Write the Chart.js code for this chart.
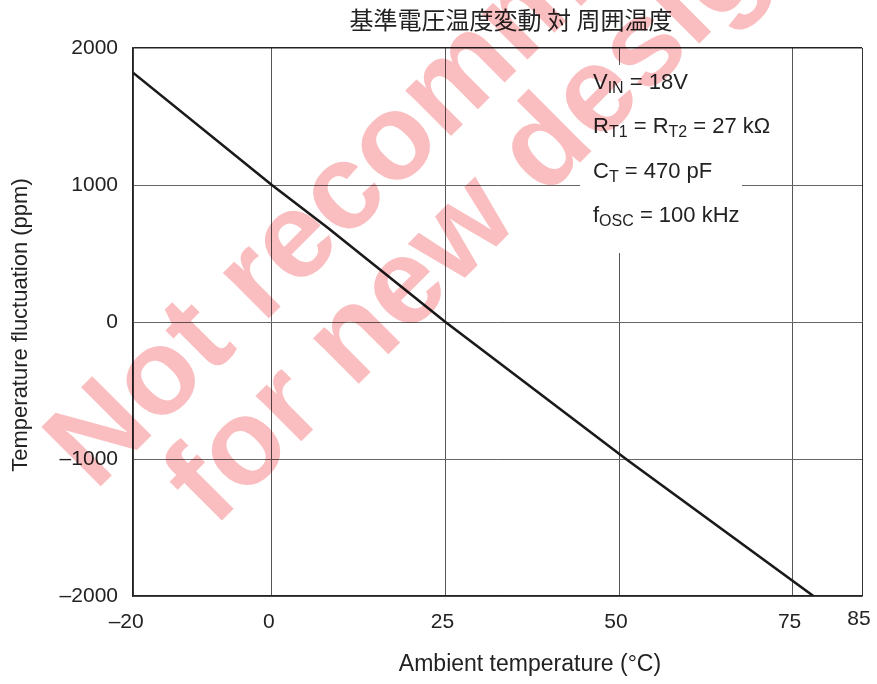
<!DOCTYPE html>
<html>
<head>
<meta charset="utf-8">
<script src="https://cdn.jsdelivr.net/npm/chart.js@4.4.1/dist/chart.umd.min.js"></script>
<style>
  html, body { margin: 0; padding: 0; background: #fff; }
  #wrap { width: 877px; height: 684px; }
</style>
</head>
<body>
<div id="wrap"><canvas id="c" width="877" height="684"></canvas></div>
<script>
// Reference voltage temperature drift versus ambient temperature
const chartTitle = '基準電圧温度変動 対 周囲温度';
const xTitle = 'Ambient temperature (°C)';
const yTitle = 'Temperature fluctuation (ppm)';

const xTickValues = [-20, 0, 25, 50, 75, 85];
const yTickValues = [-2000, -1000, 0, 1000, 2000];

// measured curve
const ambientTemp = [-20, 0, 8, 25, 51, 78];
const fluctuation = [1820, 1000, 690, 0, -1000, -2000];

// test conditions: runs of [text, isSubscript]
const conditions = [
  [['V'], ['IN', true], [' = 18V']],
  [['R'], ['T1', true], [' = R'], ['T2', true], [' = 27 kΩ']],
  [['C'], ['T', true], [' = 470 pF']],
  [['f'], ['OSC', true], [' = 100 kHz']]
];

const watermarkLines = ['Not recommended', 'for new designs'];

const FONT = '"Liberation Sans", Arial, Helvetica, sans-serif';
const INK = '#222';

const minusLabel = v => (v < 0 ? '\u2013' + Math.abs(v) : String(v));

const decor = {
  id: 'decor',
  afterDraw(chart) {
    const { ctx, chartArea: a, scales: { x } } = chart;
    ctx.save();

    // x tick labels: number centred under the grid line, minus sign hanging left
    ctx.font = '21px ' + FONT;
    ctx.fillStyle = INK;
    ctx.textBaseline = 'middle';
    xTickValues.forEach(v => {
      const px = x.getPixelForValue(v) - (v < 0 ? 1 : 3);
      const py = v === x.max ? a.bottom + 23.5 : a.bottom + 26.5;
      const num = String(Math.abs(v));
      const w = ctx.measureText(num).width;
      ctx.textAlign = 'left';
      ctx.fillText(num, px - w / 2, py);
      if (v < 0) {
        ctx.textAlign = 'right';
        ctx.fillText('\u2013', px - w / 2, py);
      }
    });

    // chart title
    ctx.font = '24px "Noto Sans CJK JP", "Noto Sans CJK SC", sans-serif';
    ctx.textAlign = 'center';
    ctx.fillText(chartTitle, 511, 20);

    // axis titles
    ctx.font = '23px ' + FONT;
    ctx.fillText(xTitle, 530, 665);
    ctx.font = '22px ' + FONT;
    ctx.save();
    ctx.translate(21, (a.top + a.bottom) / 2 + 3);
    ctx.rotate(-Math.PI / 2);
    ctx.fillText(yTitle, 0, 0);
    ctx.restore();

    // conditions box
    const bx = a.left + 447, by = a.top + 17;
    ctx.fillStyle = '#fff';
    ctx.fillRect(bx, by, 162, 188);
    ctx.fillStyle = INK;
    ctx.textAlign = 'left';
    ctx.textBaseline = 'alphabetic';
    conditions.forEach((runs, i) => {
      let tx = bx + 13;
      const ty = a.top + 41 + i * 44.3;
      runs.forEach(([t, sub]) => {
        ctx.font = (sub ? '16px ' : '22px ') + FONT;
        ctx.fillText(t, tx, ty + (sub ? 4 : 0));
        tx += ctx.measureText(t).width;
      });
    });

    // watermark
    ctx.globalCompositeOperation = 'multiply';
    ctx.fillStyle = 'rgb(250,190,192)';
    ctx.font = 'bold 122px ' + FONT;
    ctx.translate(95, 492);
    ctx.rotate(-Math.PI / 4);
    ctx.fillText(watermarkLines[0], 0, 0);
    ctx.fillText(watermarkLines[1], 58, 110);
    ctx.restore();
  }
};

new Chart(document.getElementById('c'), {
  type: 'line',
  data: {
    datasets: [{
      data: ambientTemp.map((t, i) => ({ x: t, y: fluctuation[i] })),
      borderColor: '#1a1a1a',
      borderWidth: 2.6,
      pointRadius: 0,
      tension: 0,
      fill: false
    }]
  },
  options: {
    responsive: false,
    devicePixelRatio: 1,
    animation: false,
    layout: { padding: { top: 48, right: 15, bottom: 0, left: 0 } },
    plugins: { legend: { display: false }, title: { display: false }, tooltip: { enabled: false } },
    scales: {
      x: {
        type: 'linear',
        min: -20,
        max: 85,
        afterBuildTicks: s => { s.ticks = xTickValues.map(v => ({ value: v })); },
        afterFit: s => { s.height = 88; },
        ticks: { display: false },
        grid: {
          drawTicks: false,
          color: c => (c.tick && (c.tick.value === 85) ? '#333' : '#555'),
          lineWidth: 1
        },
        border: { display: true, color: '#222', width: 1.5 }
      },
      y: {
        type: 'linear',
        min: -2000,
        max: 2000,
        afterBuildTicks: s => { s.ticks = yTickValues.map(v => ({ value: v })); },
        afterFit: s => { s.width = 133; },
        ticks: {
          padding: 15,
          color: INK,
          font: { family: FONT, size: 21 },
          callback: v => minusLabel(v)
        },
        grid: {
          drawTicks: false,
          color: c => (c.tick && c.tick.value === 2000 ? '#222' : '#666'),
          lineWidth: c => (c.tick && c.tick.value === 2000 ? 1.5 : 1)
        },
        border: { display: true, color: '#222', width: 1.5 }
      }
    }
  },
  plugins: [decor]
});
</script>
</body>
</html>
